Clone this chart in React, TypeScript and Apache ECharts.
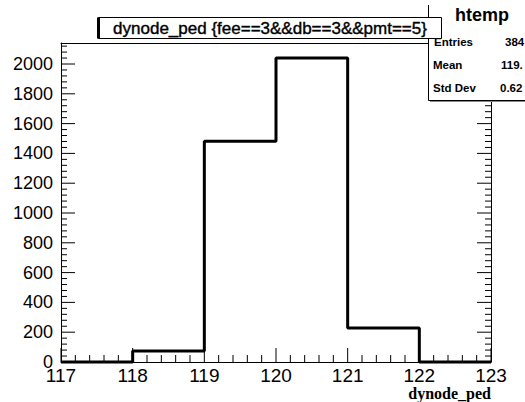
import React, { useEffect, useRef } from "react";
import * as echarts from "echarts";

// Histogram of dynode_ped {fee==3&&db==3&&pmt==5}
const binEdges = [117, 118, 119, 120, 121, 122, 123];
const counts = [0, 74, 1482, 2040, 229, 0];
const xTicks = [117, 118, 119, 120, 121, 122, 123];
const yTicks = [0, 200, 400, 600, 800, 1000, 1200, 1400, 1600, 1800, 2000];
const X_MIN = 117;
const X_MAX = 123;
const Y_MAX = 2141;
const X_MINOR_STEP = 0.2;
const Y_MINOR_STEP = 40;
const statLabels = ["Entries", "Mean", "Std Dev"];
const statValues = ["384", "119.", "0.62"];

const SANS = '"Liberation Sans", Arial, Helvetica, sans-serif';
const SERIF = '"Liberation Serif", "Times New Roman", serif';

const W = 525;
const H = 402;
const G = { left: 61, right: 34, top: 43, bottom: 40 };

export default function App() {
  const ref = useRef<HTMLDivElement>(null);

  useEffect(() => {
    if (!ref.current) return;
    const chart = echarts.init(ref.current, undefined, { renderer: "svg" });

    const histData = binEdges.map((e, i) => [
      e,
      i < counts.length ? counts[i] : counts[counts.length - 1],
    ]);

    // tick marks drawn as short line segments in data space (gaps break the line)
    const pxPerX = (W - G.left - G.right) / (X_MAX - X_MIN);
    const pxPerY = (H - G.top - G.bottom) / Y_MAX;
    const tickSegs: any[] = [];
    const nx = Math.round((X_MAX - X_MIN) / X_MINOR_STEP);
    for (let i = 0; i <= nx; i++) {
      const v = +(X_MIN + i * X_MINOR_STEP).toFixed(4);
      const major = xTicks.some((t) => Math.abs(t - v) < 1e-6);
      const len = major ? 14 : 7;
      tickSegs.push([v, 0], [v, len / pxPerY], "-");
    }
    for (let v = 0; v < Y_MAX; v += Y_MINOR_STEP) {
      const major = yTicks.includes(v);
      const len = major ? 14 : 6;
      tickSegs.push([X_MIN, v], [X_MIN + len / pxPerX, v], "-");
      tickSegs.push([X_MAX, v], [X_MAX - len / pxPerX, v], "-");
    }

    const yAxisBase = (pos: "left" | "right") => ({
      type: "value",
      position: pos,
      min: 0,
      max: Y_MAX,
      interval: 200,
      axisLine: { show: true, lineStyle: { color: "#000", width: 1 } },
      axisTick: { show: false },
      axisLabel: {
        show: pos === "left",
        showMaxLabel: false,
        color: "#000",
        fontFamily: SANS,
        fontSize: 18,
        margin: 8,
        formatter: (v: number) => String(v),
      },
      splitLine: { show: false },
    });

    const statsX = 428;
    const rowY = [42, 65, 88];
    const valX = [505, 501, 500];

    const graphic: any[] = [
      {
        type: "rect",
        z: 100,
        shape: { x: statsX + 2, y: 7, width: 120, height: 95 },
        style: { fill: "#888" },
      },
      {
        type: "rect",
        z: 101,
        shape: { x: statsX, y: 5, width: 120, height: 95 },
        style: { fill: "#fff", stroke: null },
      },
      {
        type: "polyline",
        z: 102,
        shape: { points: [[statsX + 0.5, 5], [statsX + 0.5, 100.5], [statsX + 120, 100.5]] },
        style: { stroke: "#000", lineWidth: 1, fill: null },
      },
      {
        type: "text",
        z: 103,
        x: 482,
        y: 15,
        style: {
          text: "htemp",
          font: `bold 18px ${SANS}`,
          fill: "#000",
          align: "center",
          verticalAlign: "middle",
        },
      },
      ...statLabels.map((t, i) => ({
        type: "text",
        z: 103,
        x: i === 0 ? 434 : 433,
        y: rowY[i],
        style: { text: t, font: `bold 11.5px ${SANS}`, fill: "#000", verticalAlign: "middle" },
      })),
      ...statValues.map((t, i) => ({
        type: "text",
        z: 103,
        x: valX[i],
        y: rowY[i],
        style: { text: t, font: `bold 11.5px ${SANS}`, fill: "#000", verticalAlign: "middle" },
      })),
      {
        type: "rect",
        z: 110,
        shape: { x: 98.5, y: 17.5, width: 343, height: 21 },
        style: { fill: "#fff", stroke: "#000", lineWidth: 1 },
      },
      {
        type: "line",
        z: 111,
        shape: { x1: 98.5, y1: 17.5, x2: 98.5, y2: 38.5 },
        style: { stroke: "#000", lineWidth: 3 },
      },
      {
        type: "text",
        z: 112,
        x: 270,
        y: 28,
        style: {
          text: "dynode_ped {fee==3&&db==3&&pmt==5}",
          font: `17px ${SANS}`,
          fill: "#000",
          stroke: "#000",
          lineWidth: 0.4,
          align: "center",
          verticalAlign: "middle",
        },
      },
      {
        type: "text",
        z: 50,
        x: 491,
        y: 393,
        style: {
          text: "dynode_ped",
          font: `bold 16px ${SERIF}`,
          fill: "#000",
          align: "right",
          verticalAlign: "middle",
        },
      },
    ];

    chart.setOption({
      animation: false,
      backgroundColor: "#fff",
      grid: { ...G, show: false, containLabel: false },
      xAxis: [
        {
          type: "value",
          position: "bottom",
          min: X_MIN,
          max: X_MAX,
          interval: 1,
          axisLine: { show: true, onZero: false, lineStyle: { color: "#000", width: 1 } },
          axisTick: { show: false },
          axisLabel: {
            color: "#000",
            fontFamily: SANS,
            fontSize: 19,
            margin: 4,
            formatter: (v: number) => (xTicks.includes(v) ? String(v) : ""),
          },
          splitLine: { show: false },
        },
        {
          type: "value",
          position: "top",
          min: X_MIN,
          max: X_MAX,
          interval: 1,
          axisLine: { show: true, onZero: false, lineStyle: { color: "#000", width: 1 } },
          axisTick: { show: false },
          axisLabel: { show: false },
          splitLine: { show: false },
        },
      ],
      yAxis: [yAxisBase("left"), yAxisBase("right")],
      series: [
        {
          type: "line",
          name: "ticks",
          data: tickSegs,
          xAxisIndex: 0,
          yAxisIndex: 0,
          symbol: "none",
          showSymbol: false,
          connectNulls: false,
          clip: false,
          silent: true,
          lineStyle: { color: "#000", width: 1 },
          z: 4,
        },
        {
          type: "line",
          step: "end",
          data: histData,
          xAxisIndex: 0,
          yAxisIndex: 0,
          symbol: "none",
          clip: false,
          lineStyle: { color: "#000", width: 3 },
          z: 5,
        },
      ],
      graphic,
    });

    return () => chart.dispose();
  }, []);

  return (
    <div
      ref={ref}
      style={{ position: "fixed", left: 0, top: 0, width: W, height: H, background: "#fff" }}
    />
  );
}
